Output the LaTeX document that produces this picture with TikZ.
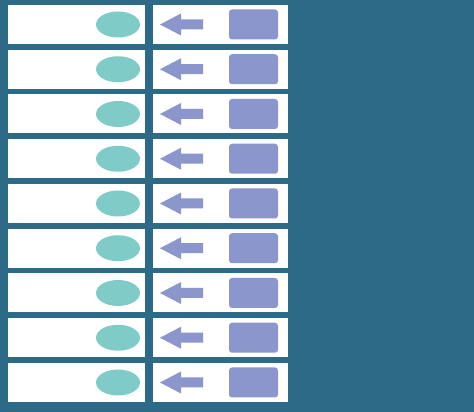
\documentclass[tikz,border=0pt]{standalone}
\usetikzlibrary{calc}
\definecolor{bgblue}{HTML}{2C6A87}
\definecolor{tealc}{HTML}{7ECBC7}
\definecolor{purp}{HTML}{8A96CC}
\tikzset{
  panel/.style={fill=white, draw=none, minimum width=137pt, minimum height=39pt, inner sep=0pt, outer sep=0pt},
  panelr/.style={fill=white, draw=none, minimum width=135pt, minimum height=39pt, inner sep=0pt, outer sep=0pt},
  blob/.style={ellipse, fill=tealc, draw=none, minimum width=44pt, minimum height=26pt, inner sep=0pt},
  tile/.style={fill=purp, draw=none, rounded corners=3pt, minimum width=49pt, minimum height=30pt, inner sep=0pt},
  blockarrow/.style={fill=purp, draw=none}
}
\usetikzlibrary{shapes.geometric}
\begin{document}
\begin{tikzpicture}[x=1pt,y=1pt]
\fill[bgblue] (0,0) rectangle (474,412);
\useasboundingbox (0,0) rectangle (474,412);
\foreach \k in {0,...,8}{
  \pgfmathsetmacro{\cy}{412-(24.5+44.75*\k)}
  \node[panel] (L\k) at (76.5,\cy) {};
  \node[panelr] (R\k) at (220.5,\cy) {};
  \node[blob] (E\k) at (118,\cy) {};
  \node[tile] (B\k) at (253.5,\cy) {};
  \coordinate (T\k) at (160,\cy);
  \fill[blockarrow] (T\k) -- ++(21,11) -- ++(0,-6) -- ++(22,0) -- ++(0,-10) -- ++(-22,0) -- ++(0,-6) -- cycle;
}
\end{tikzpicture}
\end{document}
